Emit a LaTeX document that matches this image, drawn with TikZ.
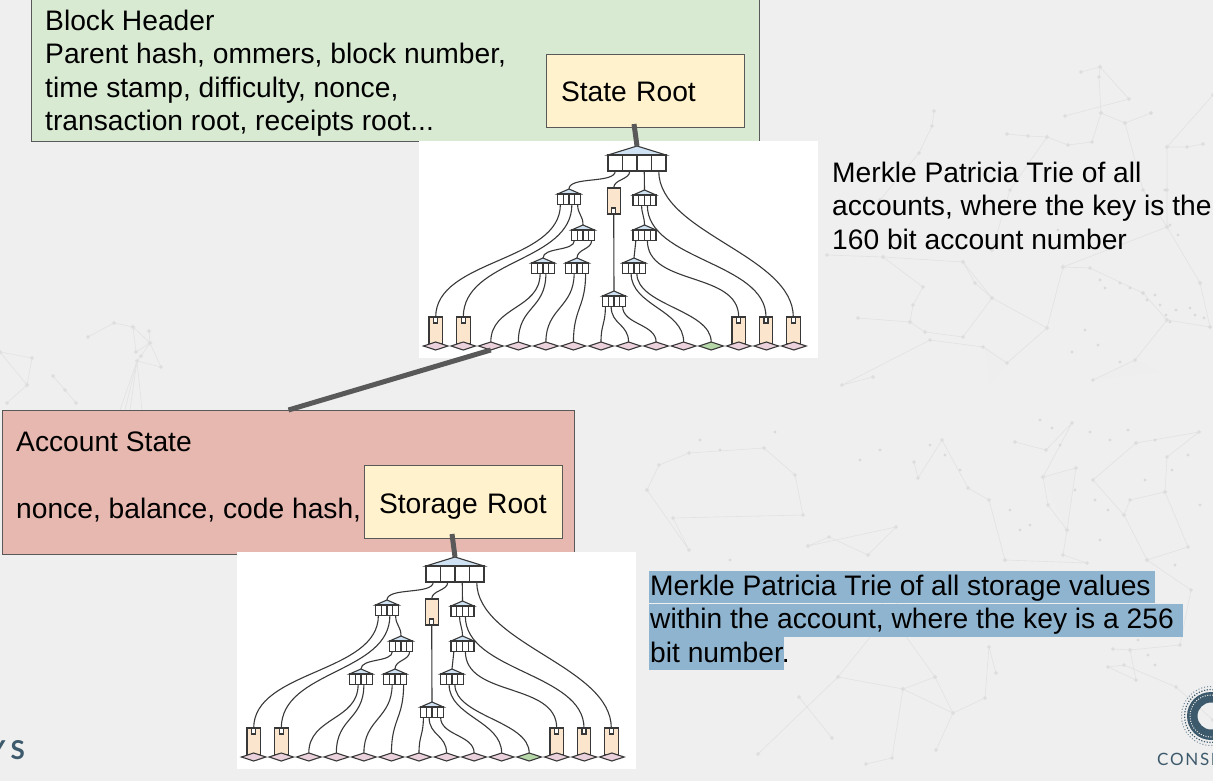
\documentclass[tikz,border=0pt]{standalone}
\usepackage{fontspec}
\setmainfont{Liberation Sans}
\newfontfamily\logofont[LetterSpace=10]{Lato}
\usetikzlibrary{shapes.geometric}
\definecolor{slidegray}{HTML}{EFEFEF}
\definecolor{plexgray}{HTML}{E2E2E2}
\definecolor{plexdot}{HTML}{DADADA}
\definecolor{edgegray}{HTML}{595959}
\definecolor{headgreen}{HTML}{D9EAD3}
\definecolor{rootyellow}{HTML}{FFF2CC}
\definecolor{accountred}{HTML}{E6B8AF}
\definecolor{markblue}{HTML}{8FB4CF}
\definecolor{roofblue}{HTML}{CFE2F3}
\definecolor{leaforange}{HTML}{FCE5CD}
\definecolor{valuepink}{HTML}{EAD1DC}
\definecolor{valuegreen}{HTML}{B6D7A8}
\definecolor{logoblue}{HTML}{3D5A6C}
\tikzset{
  slidetext/.style={font=\fontsize{28.2}{33.3}\selectfont,align=left,inner sep=0pt,anchor=north west},
  slidebox/.style={draw=edgegray,line width=1pt,inner sep=0pt,anchor=north west},
  rootbox/.style={slidebox,fill=rootyellow,minimum width=198pt,minimum height=73pt,text width=169pt,text height=24pt,text depth=2pt,align=left,font=\fontsize{28.2}{33.3}\selectfont},
  bigedge/.style={draw=edgegray,line width=5pt},
  plexline/.style={draw=plexgray,line width=0.6pt,mark=*,mark size=1.6pt,mark options={fill=plexdot,draw=none}},
  trline/.style={draw=black!78,line width=1.1pt},
  trcell/.style={trline,fill=white,inner sep=0pt,outer sep=0pt},
  valuenode/.style={trline,diamond,inner sep=0pt,outer sep=0pt,minimum width=24.5pt,minimum height=8pt,fill=#1},
  wire/.style={trline,to path={.. controls +(0,#1) and +(0,-#1) .. (\tikztotarget)}},
}
% name, centre x, top of cells, cell width, cell height, roof height
\newcommand{\branchnode}[6]{
  \filldraw[trline,fill=roofblue] (#2-2*#4,#3) -- (#2,#3-#6) -- (#2+2*#4,#3) -- cycle;
  \coordinate (#1-apex) at (#2,#3-#6);
  \node[trcell,minimum width=#4 pt,minimum height=#5 pt] (#1-c1) at (#2-1.5*#4,#3+#5/2) {};
  \node[trcell,minimum width=#4 pt,minimum height=#5 pt] (#1-c2) at (#2-0.5*#4,#3+#5/2) {};
  \node[trcell,minimum width=#4 pt,minimum height=#5 pt] (#1-c3) at (#2+0.5*#4,#3+#5/2) {};
  \node[trcell,minimum width=#4 pt,minimum height=#5 pt] (#1-c4) at (#2+1.5*#4,#3+#5/2) {};
}
% name, centre x
\newcommand{\tallleaf}[2]{
  \node[trcell,fill=leaforange,minimum width=13.5pt,minimum height=27pt,anchor=north] (#1) at (#2,177) {};
  \node[trcell,minimum width=4pt,minimum height=6pt,anchor=north] (#1-port) at (#1.north) {};
}
\newcommand{\trie}{
  \node[fill=white,inner sep=0pt,minimum width=399pt,minimum height=217pt,anchor=north west] (panel) at (-1,1) {};
  \branchnode{root}{217}{15}{14.5}{16}{9}
  \branchnode{bA}{149}{54}{5.75}{10.5}{5}
  \branchnode{bB}{163}{90}{5.75}{10.5}{5}
  \branchnode{bC}{123}{123}{5.75}{10.5}{5}
  \branchnode{bD}{157}{123}{5.75}{10.5}{5}
  \branchnode{bE}{224.5}{55}{5.75}{10.5}{5}
  \branchnode{bF}{224.5}{90}{5.75}{10.5}{5}
  \branchnode{bG}{214}{123}{5.75}{10.5}{5}
  \branchnode{bH}{194}{156}{5.75}{10.5}{5}
  \node[trcell,fill=leaforange,minimum width=13pt,minimum height=26pt,anchor=north] (ext) at (193.7,48) {};
  \node[trcell,minimum width=4pt,minimum height=6pt,anchor=south] (ext-port) at (ext.south) {};
  \tallleaf{tA}{15.7}
  \tallleaf{tB}{43.3}
  \tallleaf{tC}{318.7}
  \tallleaf{tD}{346}
  \tallleaf{tE}{373.3}
  \foreach \i/\fc in {0/valuepink,1/valuepink,2/valuepink,3/valuepink,4/valuepink,5/valuepink,6/valuepink,
      7/valuepink,8/valuepink,9/valuepink,10/valuegreen,11/valuepink,12/valuepink,13/valuepink}
    \node[valuenode=\fc] (d\i) at (15.7+27.55*\i,206) {};
  \draw[wire=13] (root-c1.south) to (bA-apex);
  \draw[wire=9] (root-c2.south) to (ext.north);
  \draw[trline] (root-c3.south) -- (bE-apex);
  \draw[wire=62] (root-c4.south) to (tE-port.north);
  \draw[wire=58] (bA-c1.south) to (tA-port.north);
  \draw[wire=58] (bA-c3.south) to (tB-port.north);
  \draw[wire=10] (bA-c4.south) to (bB-apex);
  \draw[wire=11] (bB-c1.south) to (bC-apex);
  \draw[wire=9] (bB-c4.south) to (bD-apex);
  \draw[wire=36] (bC-c2.south) to (d2.north);
  \draw[wire=36] (bC-c3.south) to (d3.north);
  \draw[wire=34] (bD-c2.south) to (d4.north);
  \draw[wire=34] (bD-c4.south) to (d5.north);
  \draw[trline] (ext-port.south) -- (bH-apex);
  \draw[wire=18] (bH-c1.south) to (d6.north);
  \draw[wire=18] (bH-c2.south) to (d7.north);
  \draw[wire=18] (bH-c4.south) to (d8.north);
  \draw[wire=8] (bE-c2.south) to (bF-apex);
  \draw[wire=55] (bE-c3.south) to (tD-port.north);
  \draw[wire=9] (bF-c1.south) to (bG-apex);
  \draw[wire=46] (bF-c3.south) to (tC-port.north);
  \draw[wire=32] (bG-c2.south) to (d9.north);
  \draw[wire=32] (bG-c3.south) to (d10.north);
}
\begin{document}
\begin{tikzpicture}[x=1pt,y=-1pt]
  \useasboundingbox (0,0) rectangle (1213,781);
  \clip (0,0) rectangle (1213,781);
  \fill[slidegray] (0,0) rectangle (1213,781);

  % watermark
  \fill[plexgray!60] (1043,477) -- (1076,468) -- (1067,530) -- cycle;
  \fill[plexgray!60] (1093,380) -- (1135,360) -- (1160,372) -- cycle;
  \fill[plexgray!60] (985,347) -- (1007,363) -- (990,385) -- cycle;
  \draw[plexline] plot coordinates {(1081,72) (1100,67) (1129,99) (1065,116)};
  \draw[plexline] plot coordinates {(1100,67) (1099,77) (1101,113) (1125,123) (1151,113)};
  \draw[plexline] plot coordinates {(1101,113) (1092,142) (1068,145) (1047,137) (1028,136) (1007,134)};
  \draw[plexline] plot coordinates {(1047,137) (1010,190) (992,250)};
  \draw[plexline] plot coordinates {(934,111) (932,126) (919,153) (880,200)};
  \draw[plexline] plot coordinates {(1213,95) (1167,147) (1187,147) (1203,144)};
  \draw[plexline] plot coordinates {(1167,147) (1167,190) (1167,227) (1200,283)};
  \draw[plexline] plot coordinates {(1125,123) (1143,190) (1167,227) (1063,267)};
  \draw[plexline] plot coordinates {(827,255) (883,257) (923,287) (913,305) (910,322) (925,332) (963,337) (992,298) (975,283) (963,262) (883,257)};
  \draw[plexline] plot coordinates {(910,322) (858,318)};
  \draw[plexline] plot coordinates {(963,262) (992,298) (1047,328)};
  \draw[plexline] plot coordinates {(1063,267) (1090,268) (1143,293) (1167,320) (1135,360) (1093,380)};
  \draw[plexline] plot coordinates {(1063,267) (1047,328) (1007,363) (983,347) (930,340) (842,385) (873,377)};
  \draw[plexline] plot coordinates {(1200,283) (1210,327) (1167,320)};
  \draw[plexline] plot coordinates {(647,490) (689,550) (673,518) (803,515) (795,475) (764,448) (689,453) (659,465) (647,490)};
  \draw[plexline] plot coordinates {(808,546) (829,537) (868,555) (896,527) (808,546)};
  \draw[plexline] plot coordinates {(838,677) (903,689) (935,677) (953,713) (985,698) (989,647) (996,673)};
  \draw[plexline] plot coordinates {(758,754) (838,677) (900,600)};
  \draw[plexline] plot coordinates {(799,697) (832,738)};
  \draw[plexline] plot coordinates {(866,764) (892,758) (903,689) (953,713) (936,750)};
  \draw[plexline] plot coordinates {(935,677) (880,600)};
  \draw[plexline] plot coordinates {(914,462) (918,478) (942,440) (968,488) (989,500) (1005,560)};
  \draw[plexline] plot coordinates {(1015,442) (1046,450) (1072,423) (1043,477) (1076,468) (1067,530) (1048,505) (1043,477)};
  \draw[plexline] plot coordinates {(1067,530) (1063,555) (1087,563) (1005,560)};
  \draw[plexline] plot coordinates {(1136,443) (1199,432) (1167,457) (1165,492) (1130,500) (1124,515) (1093,480) (1136,443)};
  \draw[plexline] plot coordinates {(1124,515) (1147,560) (1188,547) (1165,492)};
  \draw[plexline] plot coordinates {(1113,649) (1130,650) (1136,680) (1108,667) (1124,665) (1176,687) (1213,720)};
  \draw[plexline] plot coordinates {(1130,650) (1180,645) (1191,590) (1147,560)};
  \draw[plexline] plot coordinates {(88,337) (114,323) (133,327) (150,343) (136,352) (133,327)};
  \draw[plexline] plot coordinates {(149,331) (150,343) (161,367) (137,361) (141,356) (150,343)};
  \draw[plexline] plot coordinates {(0,352) (32,358) (27,385) (0,352)};
  \draw[plexline] plot coordinates {(7,403) (27,385)};
  \draw[plexline] plot coordinates {(53,376) (65,390) (76,403)};
  \foreach \fanx in {120,125,130,142}
    \draw[draw=plexgray,line width=0.6pt] (137,361) -- (\fanx,410);
  \foreach \dotx/\doty in {1151/113,1143/293,1147/300,1160/305,1166/315,1170/322,1176/310,1190/308,1195/315,1204/318,
      1210/327,1100/280,1105/288,1120/283,1130/288,1155/295,1050/205,1058/230,1165/190,1180/215,1170/225,1178/235,
      1040/420,1052/428,1060/445,1090/432,1110/440,1128/430,1155/440,1172/470,1188/455,1145/480,1095/500,1108/510,
      1200/505,1075/490,1010/510,1020/530,1030/525,1100/540,1175/565,1138/640,1148/655,1155/665,930/445,945/455,
      960/470,880/450,860/460,700/440,720/450,775/432,730/560,745/575,1085/330,1098/345,1120/362,1072/352}
    \fill[plexdot] (\dotx,\doty) circle (1.7);

  % logos
  \node[text=logoblue,inner sep=0pt,anchor=base east,font=\logofont\bfseries\fontsize{26}{26}\selectfont] (leftlogo) at (25,759) {Y\hspace{5pt}S};
  \node[text=logoblue,inner sep=0pt,anchor=base west,font=\logofont\fontsize{17}{17}\selectfont] (rightlogo) at (1157,765) {CONSE};
  \fill[logoblue,even odd rule] (1211,716) circle (24) (1211,716) circle (13.5);
  \draw[slidegray,line width=1pt,dash pattern=on 1pt off 1.5pt] (1211,716) circle (21);
  \draw[logoblue,line width=1.2pt,dash pattern=on 1.2pt off 1.6pt] (1211,716) circle (26.5);
  \draw[logoblue!70,line width=1pt,dash pattern=on 1pt off 2pt] (1211,716) circle (29.5);

  \node[slidebox,fill=headgreen,minimum width=728pt,minimum height=142pt] (blockheader) at (31,-1) {};
  \node[slidetext] (blocktext) at (45,10) {Block Header\\Parent hash, ommers, block number,\\time stamp, difficulty, nonce,\\transaction root, receipts root...};
  \node[rootbox] (stateroot) at (546,54) {State Root};
  \coordinate (stateout) at (634,124);

  \begin{scope}[shift={(420,140)},name prefix=A-]
    \trie
  \end{scope}
  \draw[bigedge] (stateout) -- (A-root-apex);

  \node[slidetext] (statetext) at (832,162) {Merkle Patricia Trie of all\\accounts, where the key is the\\160 bit account number};

  \node[slidebox,fill=accountred,minimum width=572pt,minimum height=144pt] (accountstate) at (2,410) {};
  \draw[bigedge] (A-d2.south) -- (accountstate.north);
  \node[slidetext] (accounttext) at (16,432) {Account State\\[33.6pt]nonce, balance, code hash,};
  \node[rootbox] (storageroot) at (364,465) {Storage Root};
  \coordinate (storageout) at (452,534);

  \begin{scope}[shift={(238,551)},name prefix=B-]
    \trie
  \end{scope}
  \draw[bigedge] (storageout) -- (B-root-apex);

  \fill[markblue] (649,571) rectangle (1155,603);
  \fill[markblue] (649,604) rectangle (1183,637);
  \fill[markblue] (649,637) rectangle (784,670);
  \node[slidetext] (storagetext) at (650,575) {Merkle Patricia Trie of all storage values\\within the account, where the key is a 256\\bit number.};
\end{tikzpicture}
\end{document}
